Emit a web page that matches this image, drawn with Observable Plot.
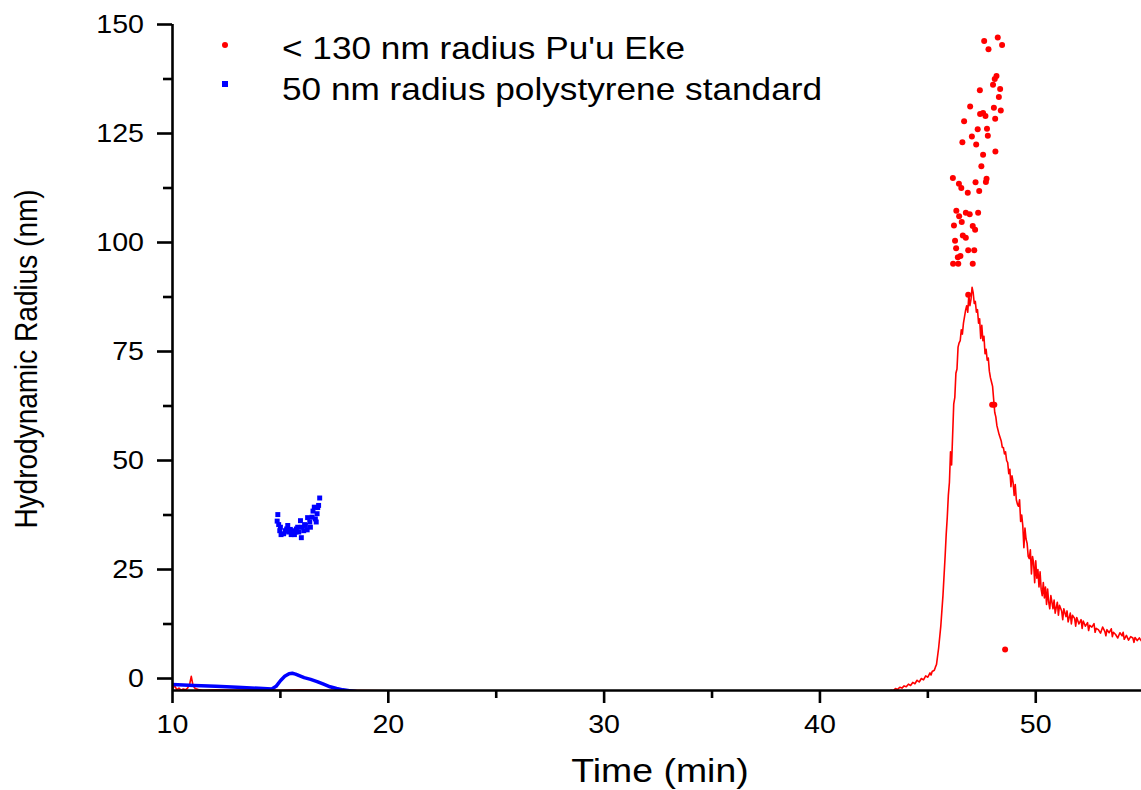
<!DOCTYPE html>
<html>
<head>
<meta charset="utf-8">
<script src="https://cdn.jsdelivr.net/npm/d3@7"></script>
<script src="https://cdn.jsdelivr.net/npm/@observablehq/plot@0.6"></script>
<style>
  body { margin: 0; background: #fff; }
  #wrap { position: relative; width: 1141px; height: 790px; overflow: hidden; font-family: "Liberation Sans", Arial, sans-serif; color: #000; }
  .leg { position: absolute; left: 282px; font-size: 32px; line-height: 1; white-space: nowrap; transform-origin: 0 0; transform: scaleX(1.1); }
  .sym { position: absolute; }
  #xtitle { position: absolute; left: 660px; top: 753px; font-size: 34px; line-height: 1; white-space: nowrap; transform: translateX(-50%) scaleX(1.1); }
  #ytitle { position: absolute; left: 27px; top: 359px; font-size: 28px; line-height: 1; white-space: nowrap; transform: translate(-50%, -50%) rotate(-90deg) scaleY(1.15); }
</style>
</head>
<body>
<div id="wrap"></div>
<script>
// ---- tick values / labels ----
const xDomain = [10, 54.9];
const yDomain = [-2.75, 150];
const xTicks = [10, 20, 30, 40, 50];
const xMinorTicks = [15, 25, 35, 45];
const yTicks = [0, 25, 50, 75, 100, 125, 150];
const yMinorTicks = [12.5, 37.5, 62.5, 87.5, 112.5, 137.5];

const xLabel = "Time (min)";
const yLabel = "Hydrodynamic Radius (nm)";
const redName = "< 130 nm radius Pu'u Eke";
const blueName = "50 nm radius polystyrene standard";

// ---- red signal trace (time, value) ----
const redLine = [
  [10.0,-2.4],[10.1,-1.6],[10.2,-2.6],[10.3,-2.2],[10.4,-2.7],[10.5,-2.4],[10.6,-2.6],[10.7,-2.2],
  [10.8,-1.2],[10.87,0.5],[10.95,-1.6],[11.05,-2.3],[11.2,-2.5],[11.4,-2.7],[12,-2.6],[13,-2.7],
  [14,-2.6],[15,-2.7],[16,-2.6],[17,-2.7],[18,-2.7],[20,-2.8],[25,-2.8],[30,-2.8],[35,-2.8],[40,-2.8],[43.0,-2.9],
  [43.2,-3.0],[43.3,-2.7],[43.4,-2.8],[43.5,-2.3],[43.6,-2.5],[43.7,-2.0],[43.8,-2.2],[43.9,-1.7],
  [44.0,-1.9],[44.1,-1.3],[44.2,-1.6],[44.3,-0.9],[44.4,-1.2],[44.5,-0.4],[44.6,-0.8],[44.7,0.0],
  [44.8,-0.3],[44.9,0.6],[45.0,0.3],[45.1,1.3],[45.15,0.8],[45.2,1.6],[45.3,1.9],[45.35,2.6],[45.4,3.2],
  [45.5,7],[45.6,12],[45.7,19],[45.8,28],[45.85,33],[45.9,37],[45.95,42],[46.0,45],[46.05,52],[46.1,49],
  [46.15,56],[46.2,63],[46.25,64.5],[46.3,70],[46.35,71],[46.4,76],[46.45,77],[46.5,77.5],[46.55,80],
  [46.6,79],[46.65,81.5],[46.7,83],[46.75,84.5],[46.8,85.5],[46.85,84],[46.9,88],[46.95,85.5],[47.0,87],
  [47.05,89.7],[47.1,88.5],[47.15,86],[47.2,86.5],[47.25,84],[47.3,84.6],[47.35,81.5],[47.4,82.5],
  [47.45,78],[47.5,81],[47.55,77.5],[47.6,78.5],[47.65,74.5],[47.7,75.5],[47.75,73],[47.8,73.5],
  [47.85,70.5],[47.9,69],[47.95,68],[48.0,67],[48.05,64],[48.1,61],[48.15,60],[48.2,58],
  [48.3,56],[48.4,54.5],[48.45,53],[48.5,53],[48.55,51.5],[48.6,52],[48.65,50],[48.7,49.5],[48.75,47],
  [48.8,48],[48.85,44],[48.9,46.5],[48.95,45],[49.0,42],[49.05,44.5],[49.1,41],[49.15,40],[49.2,39.5],
  [49.25,41],[49.3,36],[49.35,37.5],[49.4,35],[49.45,30],[49.5,34.5],[49.55,32],[49.6,31],[49.65,28],
  [49.7,27.5],[49.75,29.5],[49.8,24],[49.85,28],[49.9,26.5],[49.95,22],[50.0,27],[50.05,23],[50.1,25],
  [50.15,21],[50.2,24.5],[50.25,20.5],[50.3,19],[50.35,22],[50.4,18.5],[50.45,21],[50.5,17],[50.55,20.5],
  [50.6,17.5],[50.65,16],[50.7,19],[50.8,16],[50.85,18],[50.9,15],[51.0,17.5],[51.05,14.5],[51.1,16.8],
  [51.2,15.5],[51.25,13.5],[51.3,16],[51.4,14.2],[51.45,15.5],[51.5,13],[51.6,15],[51.65,12.5],[51.7,14.5],
  [51.8,13.8],[51.85,12],[51.9,14],[52.0,12.5],[52.1,13.5],[52.15,11.5],[52.2,13.2],[52.3,12],[52.4,12.8],
  [52.45,11],[52.5,12.2],[52.6,11.8],[52.7,12.6],[52.75,10.6],[52.8,11.5],[52.9,11.2],[53.0,10.4],
  [53.1,11.8],[53.2,10.8],[53.25,9.8],[53.3,11.2],[53.4,10.5],[53.5,11.4],[53.55,9.6],[53.6,10.6],
  [53.7,10.1],[53.8,9.3],[53.9,10.5],[54.0,9.8],[54.05,10.6],[54.1,9.0],[54.2,9.9],[54.3,8.8],[54.4,9.6],
  [54.5,9.3],[54.55,8.3],[54.6,9.4],[54.7,8.7],[54.8,9.3],[54.9,8.6],[55.0,9.0]
];

// ---- blue signal trace (time, value) ----
const blueLine = [
  [10,-1.4],[11,-1.6],[12,-1.8],[13,-2.0],[14,-2.25],[14.6,-2.4],[14.8,-1.8],[15.0,-0.5],[15.2,0.5],
  [15.4,1.1],[15.55,1.2],[15.7,1.0],[15.9,0.6],[16.1,0.2],[16.4,-0.2],[16.7,-0.7],[17.0,-1.3],
  [17.3,-1.9],[17.6,-2.3],[17.9,-2.6],[18.2,-2.8],[18.5,-3.0]
];

// ---- red radius points: < 130 nm Pu'u Eke (time, radius) ----
const redPoints = [
  [47.61,146.2],[48.24,147.0],[48.44,145.3],[47.81,144.3],[48.18,138.2],[48.10,137.5],[48.02,136.2],
  [47.41,134.9],[48.35,135.2],[48.29,133.4],[46.96,131.2],[48.06,130.9],[48.38,130.3],[47.42,129.5],
  [47.56,129.7],[47.67,129.0],[48.12,128.4],[46.68,127.8],[47.31,126.0],[47.74,126.1],[47.04,124.3],
  [47.78,124.5],[46.60,123.0],[47.24,122.5],[48.13,120.9],[47.56,120.1],[47.48,117.5],[46.16,114.8],
  [46.44,113.5],[46.55,112.5],[46.85,111.4],[47.21,113.8],[47.38,111.8],[47.69,113.9],[47.72,114.6],
  [46.32,107.3],[46.45,106.0],[46.76,106.8],[46.94,106.5],[47.33,106.8],[46.21,103.9],[46.57,104.7],
  [47.08,103.8],[47.19,102.9],[46.26,100.4],[46.62,101.6],[46.76,101.1],[46.31,98.7],[46.51,96.9],
  [46.39,96.6],[46.87,98.2],[47.15,98.2],[46.17,95.1],[46.41,95.1],[47.08,95.1],
  [46.87,88.0],[47.98,62.8],[48.08,62.8],[48.58,6.65]
];

// ---- blue radius points: 50 nm polystyrene standard (time, radius) ----
const bluePoints = [
  [14.88,37.6],[14.85,36.1],[14.92,35.3],[14.97,33.9],[15.03,33.0],[15.15,33.2],[15.23,33.9],
  [15.34,35.1],[15.38,33.6],[15.50,33.0],[15.59,33.9],[15.65,33.0],[15.74,34.3],[15.85,33.6],
  [15.93,36.2],[15.97,32.3],[16.00,34.7],[16.08,33.9],[16.16,35.1],[16.24,34.1],[16.26,36.9],
  [16.36,35.9],[16.39,34.7],[16.47,37.0],[16.51,38.4],[16.57,39.3],[16.70,37.8],[16.73,39.2],
  [16.77,39.7],[16.82,41.4],[16.62,36.6],[16.66,35.9],[15.00,34.7],[15.29,34.3],[15.46,34.2],
  [15.69,33.6],[15.80,34.7],[16.12,35.3]
];

const RED = "#ff0000", BLUE = "#0000ff";

const chart = Plot.plot({
  width: 1141,
  height: 790,
  marginLeft: 172,
  marginRight: 0,
  marginTop: 24,
  marginBottom: 100,
  style: { fontFamily: "'Liberation Sans', Arial, sans-serif", fontSize: "26px", color: "#000", background: "#fff", overflow: "visible" },
  x: { domain: xDomain, label: null },
  y: { domain: yDomain, label: null },
  marks: [
    Plot.line(redLine, { x: d => d[0], y: d => d[1], stroke: RED, strokeWidth: 1.6, clip: true }),
    Plot.line(blueLine, { x: d => d[0], y: d => d[1], stroke: BLUE, strokeWidth: 3.5, clip: true }),
    Plot.dot(bluePoints, { x: d => d[0], y: d => d[1], symbol: "square", r: 2.8, fill: BLUE, stroke: null }),
    Plot.dot(redPoints, { x: d => d[0], y: d => d[1], r: 3, fill: RED, stroke: null }),
    Plot.ruleX([xDomain[0]], { stroke: "#000", strokeWidth: 2.6 }),
    Plot.ruleY([yDomain[0]], { stroke: "#000", strokeWidth: 2.6 }),
    Plot.axisX({ ticks: xTicks, tickSize: 13, tickPadding: 11, tickFormat: d => String(d), fontSize: 26, strokeWidth: 2.6, label: null }),
    Plot.axisX({ ticks: xMinorTicks, tickSize: 8, text: null, strokeWidth: 2.6, label: null }),
    Plot.axisY({ ticks: yTicks, tickSize: 15, tickPadding: 13.5, tickFormat: d => String(d), fontSize: 26, strokeWidth: 2.6, label: null }),
    Plot.axisY({ ticks: yMinorTicks, tickSize: 9, text: null, strokeWidth: 2.6, label: null })
  ]
});

// widen tick-label glyphs horizontally to match the reference's stretched lettering
d3.select(chart).selectAll("text").each(function () {
  const t = this.getAttribute("transform");
  if (t) {
    this.setAttribute("transform", t + " scale(1.1,1)");
  } else {
    const x = this.getAttribute("x") || 0, y = this.getAttribute("y") || 0;
    this.removeAttribute("x"); this.removeAttribute("y");
    this.setAttribute("transform", `translate(${x},${y}) scale(1.1,1)`);
  }
});

const wrap = document.getElementById("wrap");
wrap.appendChild(chart);

// legend
function addLegend(top, symLeft, symTop, size, color, round, label) {
  const s = document.createElement("div");
  s.className = "sym";
  s.style.left = symLeft + "px";
  s.style.top = symTop + "px";
  s.style.width = size + "px";
  s.style.height = size + "px";
  s.style.background = color;
  if (round) s.style.borderRadius = "50%";
  wrap.appendChild(s);
  const t = document.createElement("div");
  t.className = "leg";
  t.style.top = top + "px";
  t.textContent = label;
  wrap.appendChild(t);
}
addLegend(32, 222, 42, 6, RED, true, redName);
addLegend(73, 222, 81, 5.5, BLUE, false, blueName);

const xt = document.createElement("div"); xt.id = "xtitle"; xt.textContent = xLabel; wrap.appendChild(xt);
const yt = document.createElement("div"); yt.id = "ytitle"; yt.textContent = yLabel; wrap.appendChild(yt);
</script>
</body>
</html>
